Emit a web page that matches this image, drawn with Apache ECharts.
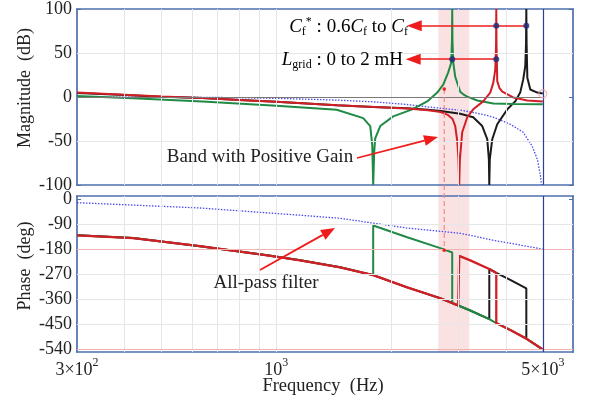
<!DOCTYPE html>
<html>
<head>
<meta charset="utf-8">
<script src="https://cdn.jsdelivr.net/npm/echarts@6/dist/echarts.min.js"></script>
<style>
  html, body { margin: 0; padding: 0; background: #ffffff; }
  #chart { width: 591px; height: 401px; }
</style>
</head>
<body>
<div id="chart"></div>
<script>
// ---- axis ticks ----
const freqTicks = [400, 500, 600, 700, 800, 900, 1000, 2000, 3000, 4000, 5000];
const freqLabelValues = [300, 1000, 5000];
const magTicks = [-100, -50, 0, 50, 100];
const phaseTicks = [-540, -450, -360, -270, -180, -90, 0];

// ---- magnitude (dB) vs frequency (Hz) ----
const magAllPass = [[300,0],[700,-0.5],[1000,-1.5],[1440,-3.5],[1800,-5.5],[2200,-8.5],[2530,-11.5],[2800,-13.5],[3040,-15],[3230,-17],[3500,-20],[3710,-23],[4110,-31],[4440,-40],[4690,-56],[4840,-71],[4930,-90],[4960,-100]];
const magGreen = [[300,1],[420,-1.5],[640,-5],[1000,-10],[1440,-14.5],[1690,-24],[1763,-33],[1785,-55],[1795,-100],[1806,-62],[1817,-47],[1873,-33],[2026,-22],[2272,-14],[2487,-5],[2643,5],[2740,14],[2824,28],[2876,39],[2889,65],[2893,100],[2897,65],[2910,40],[2946,23],[3036,6],[3092,3],[3168,0.5],[3365,-4],[3707,-7.3],[4200,-8],[5000,-8.2]];
const magRed = [[300,5],[400,2.5],[500,0.5],[640,-1],[800,-3.5],[1000,-5.5],[1200,-7.5],[1440,-9.5],[1800,-11.5],[2200,-13],[2500,-15],[2700,-17],[2808,-20],[2900,-25],[2946,-33],[2982,-50],[3005,-71],[3018,-100],[3030,-71],[3073,-40],[3168,-23],[3284,-14],[3488,-5],[3640,5],[3707,16],[3752,31],[3770,60],[3775,100],[3780,60],[3797,18],[3850,10],[3914,6],[4181,-0.5],[4554,-4],[5000,-5]];
const magBlack = [[300,4.5],[400,2.2],[500,0.3],[640,-1],[800,-3.5],[1000,-5.5],[1200,-7.5],[1440,-9.5],[1800,-11.5],[2200,-12.8],[2500,-14.5],[2700,-16],[3036,-19],[3284,-23],[3468,-33],[3575,-48],[3610,-71],[3619,-100],[3630,-71],[3684,-48],[3797,-31],[4035,-14],[4232,-5],[4362,5],[4442,20],[4497,35],[4518,60],[4526,100],[4534,60],[4554,22],[4636,8.5],[4836,5],[5000,4]];

// ---- phase (deg) vs frequency (Hz) ----
const phaseAllPass = [[300,-14],[630,-33],[1155,-59],[1470,-70],[2200,-105],[2750,-118],[3036,-124],[3200,-130],[3707,-149],[4200,-162],[5000,-181]];
const phaseGreen = [[300,-131],[421,-141],[631,-170],[946,-203],[1155,-221],[1470,-246],[1795,-274],[1795,-96],[2204,-138],[2692,-177],[2893,-193],[2893,-374],[3000,-383],[3226,-401],[3619,-432],[3775,-446],[4107,-471],[4526,-502],[5000,-541]];
const phaseRed = [[300,-131],[421,-141],[631,-170],[946,-203],[1155,-221],[1470,-246],[1795,-274],[2204,-318],[2692,-357],[3000,-383],[3018,-385],[3018,-205],[3226,-221],[3619,-252],[3775,-266],[3775,-446],[4107,-471],[4526,-502],[5000,-541]];
const phaseBlack = [[300,-131],[421,-141],[631,-170],[946,-203],[1155,-221],[1470,-246],[1795,-274],[2204,-318],[2692,-357],[3000,-383],[3226,-401],[3619,-432],[3619,-252],[3775,-266],[4107,-291],[4526,-322],[4526,-502],[5000,-541]];

// ---- annotations ----
const peakDots = [[2893,43],[3775,43],[3775,81],[4526,81]];
const cfArrow = [[2300,81],[4526,81]];
const lgridArrow = [[2285,43],[3775,43]];
const positiveBand = [2660, 3205];
const bandMarker = { freq: 2757, mag: 9, phase: -185 };
const endMarker = [[5000, 3.6]];
const limitFreq = 5000;

const SERIF = '"Liberation Serif", "Times New Roman", serif';
const FRAME = '#4d6fae';
const TXT = '#222222';
const C_GREEN = '#1f8a43';
const C_RED = '#d21f26';
const C_BLACK = '#1b1b1b';
const C_BLUE = '#4a4aee';
const C_PINK = '#f0a0a0';

function fmtFreq(v) {
  const e = Math.floor(Math.log10(v) + 1e-9);
  const m = Math.round(v / Math.pow(10, e));
  return (m === 1 ? '{n|10}' : '{n|' + m + '×10}') + '{s|' + e + '}';
}
const freqRich = {
  n: { fontFamily: SERIF, fontSize: 18, color: TXT, lineHeight: 22, verticalAlign: 'bottom' },
  s: { fontFamily: SERIF, fontSize: 12, color: TXT, lineHeight: 13, verticalAlign: 'top' }
};

function xAxisCfg(gridIndex, position, showLabels) {
  return {
    type: 'log', logBase: 10, gridIndex: gridIndex, position: position,
    min: 300, max: 6000,
    axisLine: { show: true, onZero: false, lineStyle: { color: FRAME, width: 1.7 } },
    axisTick: { show: true, inside: true, length: 4, customValues: freqTicks, lineStyle: { color: FRAME, width: 1 } },
    axisLabel: { show: showLabels, customValues: freqLabelValues, margin: 5, formatter: fmtFreq, rich: freqRich },
    minorTick: { show: false },
    splitLine: { show: false }
  };
}
function yAxisCfg(gridIndex, position, min, max, ticks, showLabels) {
  return {
    type: 'value', gridIndex: gridIndex, position: position,
    min: min, max: max,
    axisLine: { show: true, onZero: false, lineStyle: { color: FRAME, width: 1.7 } },
    axisTick: { show: true, inside: true, length: 4, customValues: ticks, lineStyle: { color: FRAME, width: 1 } },
    axisLabel: { show: showLabels, customValues: ticks, margin: 5, fontFamily: SERIF, fontSize: 18, color: TXT },
    splitLine: { show: false }
  };
}

function curve(name, data, color, grid, opts) {
  return Object.assign({
    name: name, type: 'line', data: data,
    xAxisIndex: grid * 2, yAxisIndex: grid * 2,
    showSymbol: false, symbol: 'none', clip: true, animation: false, silent: true,
    lineStyle: { color: color, width: 2 }, z: 3
  }, opts || {});
}

function gridLines(grid, yVals, extra) {
  const data = freqTicks.map(f => ({ xAxis: f }))
    .concat(yVals.map(v => ({ yAxis: v })));
  return {
    name: 'grid' + grid, type: 'line', data: [], xAxisIndex: grid * 2, yAxisIndex: grid * 2,
    silent: true, animation: false, z: 1,
    markLine: {
      silent: true, symbol: 'none', animation: false, label: { show: false },
      lineStyle: { color: '#e4e6ea', width: 1, type: 'solid' },
      data: data.concat(extra)
    }
  };
}

const option = {
  animation: false,
  backgroundColor: '#ffffff',
  grid: [
    { left: 77, right: 18, top: 9, height: 176 },
    { left: 77, right: 18, top: 196, height: 156 }
  ],
  xAxis: [xAxisCfg(0, 'bottom', false), xAxisCfg(0, 'top', false), xAxisCfg(1, 'bottom', true), xAxisCfg(1, 'top', false)],
  yAxis: [
    yAxisCfg(0, 'left', -100, 100, magTicks, true), yAxisCfg(0, 'right', -100, 100, magTicks, false),
    yAxisCfg(1, 'left', -550, 10, phaseTicks, true), yAxisCfg(1, 'right', -550, 10, phaseTicks, false)
  ],
  series: [
    gridLines(0, [-50, 50], [
      [{ coord: [300, 0], lineStyle: { color: '#7a7a7a', width: 1 } }, { coord: [limitFreq, 0] }]
    ]),
    gridLines(1, [-90, -270, -360, -450], [
      { yAxis: -180, lineStyle: { color: '#f2b3b3', width: 1 } },
      { yAxis: -540, lineStyle: { color: '#f2b3b3', width: 1 } }
    ]),
    // limit frequency marker in both panels
    {
      name: 'limit0', type: 'line', data: [], xAxisIndex: 0, yAxisIndex: 0, z: 2, animation: false,
      markLine: { silent: true, symbol: 'none', label: { show: false }, animation: false,
        lineStyle: { color: '#2b3f94', width: 1.2, type: 'solid' }, data: [{ xAxis: limitFreq }] }
    },
    {
      name: 'limit1', type: 'line', data: [], xAxisIndex: 2, yAxisIndex: 2, z: 2, animation: false,
      markLine: { silent: true, symbol: 'none', label: { show: false }, animation: false,
        lineStyle: { color: '#2b3f94', width: 1.2, type: 'solid' }, data: [{ xAxis: limitFreq }] }
    },
    curve('allpass-mag', magAllPass, C_BLUE, 0, { lineStyle: { color: C_BLUE, width: 1.3, type: [1.5, 1.5] } }),
    curve('black-mag', magBlack, C_BLACK, 0),
    curve('green-mag', magGreen, C_GREEN, 0),
    curve('red-mag', magRed, C_RED, 0),
    curve('allpass-phase', phaseAllPass, C_BLUE, 1, { lineStyle: { color: C_BLUE, width: 1.3, type: [1.5, 1.5] } }),
    curve('black-phase', phaseBlack, C_BLACK, 1),
    curve('green-phase', phaseGreen, C_GREEN, 1),
    curve('red-phase', phaseRed, C_RED, 1, { lineStyle: { color: C_RED, width: 2.3 } }),
    // resonance markers with arrows
    {
      name: 'arrows', type: 'line', data: [], xAxisIndex: 0, yAxisIndex: 0, z: 4, animation: false,
      markLine: {
        silent: true, animation: false, label: { show: false },
        symbol: ['triangle', 'none'], symbolSize: [11, 15],
        lineStyle: { color: '#ee1c1c', width: 1.6, type: 'solid' },
        data: [
          [{ coord: cfArrow[0] }, { coord: cfArrow[1] }],
          [{ coord: lgridArrow[0] }, { coord: lgridArrow[1] }]
        ]
      }
    },
    {
      name: 'peaks', type: 'scatter', data: peakDots, xAxisIndex: 0, yAxisIndex: 0, z: 5,
      symbolSize: 6, itemStyle: { color: '#1b2a7a' }, silent: true, animation: false
    },
    {
      name: 'end', type: 'scatter', data: endMarker, xAxisIndex: 0, yAxisIndex: 0, z: 5,
      symbol: 'circle', symbolSize: 8,
      itemStyle: { color: 'rgba(0,0,0,0)', borderColor: C_PINK, borderWidth: 1.2 }, silent: true, animation: false
    }
  ]
};

const chart = echarts.init(document.getElementById('chart'));
chart.setOption(option);

function arrow(x1, y1, x2, y2, color) {
  const ang = Math.atan2(y2 - y1, x2 - x1);
  const L = 14, W = 5.5;
  const bx = x2 - L * Math.cos(ang), by = y2 - L * Math.sin(ang);
  const nx = -Math.sin(ang) * W, ny = Math.cos(ang) * W;
  return [
    { type: 'line', z: 10, shape: { x1: x1, y1: y1, x2: bx, y2: by }, style: { stroke: color, lineWidth: 1.8 } },
    { type: 'polygon', z: 10, shape: { points: [[x2, y2], [bx + nx, by + ny], [bx - nx, by - ny]] }, style: { fill: color } }
  ];
}

const annRich = {
  n: { fontFamily: SERIF, fontSize: 19, color: TXT, lineHeight: 22, verticalAlign: 'middle' },
  i: { fontFamily: SERIF, fontSize: 19, fontStyle: 'italic', color: TXT, lineHeight: 22, verticalAlign: 'middle' },
  sub: { fontFamily: SERIF, fontSize: 12, color: TXT, lineHeight: 12, verticalAlign: 'bottom' },
  sup: { fontFamily: SERIF, fontSize: 12, color: TXT, lineHeight: 12, verticalAlign: 'top' }
};

function drawOverlay() {
  const p = (g, f, v) => chart.convertToPixel({ xAxisIndex: g * 2, yAxisIndex: g * 2 }, [f, v]);
  const bandL = p(0, positiveBand[0], 100);
  const bandR = p(1, positiveBand[1], -550);
  const dTop = p(0, bandMarker.freq, bandMarker.mag);
  const dBot = p(1, bandMarker.freq, bandMarker.phase);
  const elements = [
    { type: 'rect', z: 0, silent: true,
      shape: { x: bandL[0], y: bandL[1], width: bandR[0] - bandL[0], height: bandR[1] - bandL[1] },
      style: { fill: 'rgba(236,150,150,0.28)' } },
    { type: 'line', z: 6, silent: true,
      shape: { x1: dTop[0], y1: dTop[1], x2: dBot[0], y2: dBot[1] },
      style: { stroke: '#f08a8a', lineWidth: 1.2, lineDash: [5, 3] } },
    { type: 'circle', z: 7, shape: { cx: dTop[0], cy: dTop[1], r: 1.8 }, style: { fill: '#ee2222' } },
    { type: 'circle', z: 7, shape: { cx: dBot[0], cy: dBot[1], r: 1.8 }, style: { fill: '#ee2222' } },
    // axis titles
    { type: 'text', z: 10, x: 25, y: 88, rotation: Math.PI / 2,
      style: { text: 'Magnitude  (dB)', fontFamily: SERIF, fontSize: 18, fill: TXT, align: 'center', verticalAlign: 'middle' } },
    { type: 'text', z: 10, x: 25, y: 266, rotation: Math.PI / 2,
      style: { text: 'Phase  (deg)', fontFamily: SERIF, fontSize: 18, fill: TXT, align: 'center', verticalAlign: 'middle' } },
    { type: 'text', z: 10, x: 323, y: 386,
      style: { text: 'Frequency  (Hz)', fontFamily: SERIF, fontSize: 18.5, fill: TXT, align: 'center', verticalAlign: 'middle' } },
    // annotation texts
    { type: 'text', z: 10, x: 408, y: 27,
      style: { text: '{i|C}{sub|f}{sup|*}{n| : 0.6}{i|C}{sub|f}{n| to }{i|C}{sub|f}', rich: annRich, align: 'right', verticalAlign: 'middle' } },
    { type: 'text', z: 10, x: 403, y: 60,
      style: { text: '{i|L}{sub|grid}{n| : 0 to 2 mH}', rich: annRich, align: 'right', verticalAlign: 'middle' } },
    { type: 'text', z: 10, x: 260, y: 157,
      style: { text: 'Band with Positive Gain', fontFamily: SERIF, fontSize: 19, fill: TXT, align: 'center', verticalAlign: 'middle' } },
    { type: 'text', z: 10, x: 266, y: 283,
      style: { text: 'All-pass filter', fontFamily: SERIF, fontSize: 19, fill: TXT, align: 'center', verticalAlign: 'middle' } }
  ].concat(arrow(357, 158, 438, 137, '#ee1c1c'), arrow(260, 270, 335, 228, '#ee1c1c'));
  chart.setOption({ graphic: { elements: elements } });
}
drawOverlay();
</script>
</body>
</html>
